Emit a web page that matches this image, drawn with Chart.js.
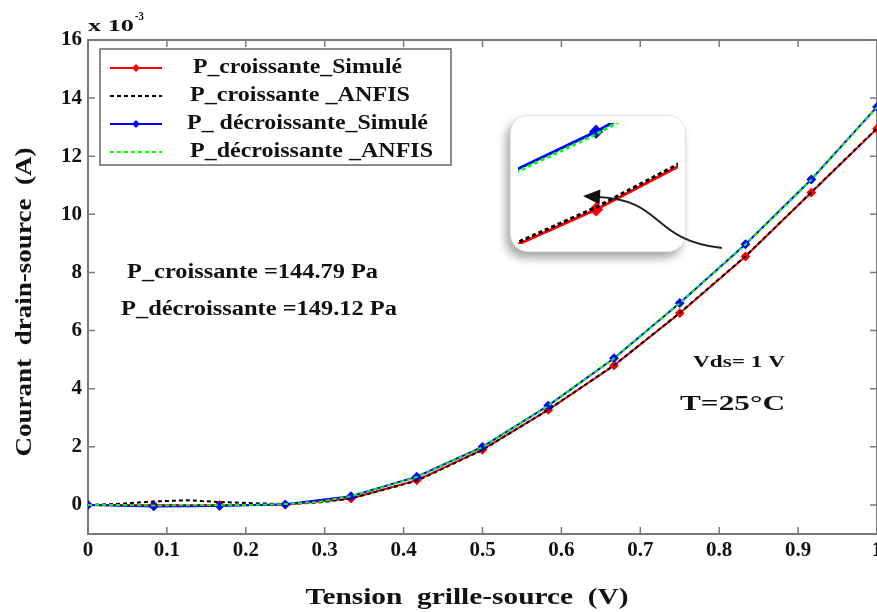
<!doctype html>
<html>
<head>
<meta charset="utf-8">
<title>Courant drain-source</title>
<script src="https://cdn.jsdelivr.net/npm/chart.js"></script>
<style>
    html, body { margin: 0; padding: 0; background: #fff; overflow: hidden; }
    #wrap { position: relative; width: 900px; height: 612px; }
    #mainChart { position: absolute; left: 0; top: 0; z-index: 1; }
    #inset {
        position: absolute; left: 510px; top: 115px; width: 176px; height: 137px;
        border-radius: 18px; overflow: hidden; background: #fff; z-index: 0;
        border: 1px solid #e4e4e4; box-sizing: border-box;
        box-shadow: -4px 6px 10px rgba(0, 0, 0, 0.35);
    }
    #zoomChart { position: absolute; left: -1px; top: -1px; }
</style>
</head>
<body>
<div id="wrap">
    <div id="inset"><canvas id="zoomChart" width="176" height="137"></canvas></div>
    <canvas id="mainChart" width="900" height="612"></canvas>
</div>
<script>
// values in units of 1e-3 A
const xSim = [0, 0.0833, 0.1667, 0.25, 0.3333, 0.4167, 0.5, 0.5833, 0.6667, 0.75, 0.8333, 0.9167, 1];
const croisSim = [0, 0.0, 0.0, 0.01, 0.22, 0.85, 1.9, 3.27, 4.8, 6.6, 8.55, 10.75, 12.95];
const decroisSim = [0, -0.05, -0.04, 0.02, 0.3, 0.97, 2.0, 3.42, 5.05, 6.95, 8.97, 11.2, 13.7];

const xAnfis = [0, 0.0417, 0.0833, 0.125, 0.1667, 0.2083, 0.25, 0.2917, 0.3333, 0.4167, 0.5, 0.5833, 0.6667, 0.75, 0.8333, 0.9167, 1];
const croisAnfis = [0, 0.04, 0.12, 0.16, 0.1, 0.06, 0.03, 0.08, 0.22, 0.83, 1.89, 3.275, 4.807, 6.61, 8.56, 10.76, 12.96];
const decroisAnfis = [0, 0.0, -0.02, 0.0, -0.01, 0.0, 0.03, 0.1, 0.3, 0.96, 1.99, 3.415, 5.042, 6.94, 8.96, 11.19, 13.69];

const xTicks = [0, 0.1, 0.2, 0.3, 0.4, 0.5, 0.6, 0.7, 0.8, 0.9, 1];
const yTicks = [0, 2, 4, 6, 8, 10, 12, 14, 16];

const seriesNames = ["P_croissante_Simulé", "P_croissante _ANFIS", "P_ décroissante_Simulé", "P_décroissante _ANFIS"];

const FONT = '"Liberation Serif", "Times New Roman", serif';

function pts(xs, ys) {
    return xs.map((x, i) => ({ x: x, y: ys[i] }));
}

function makeDatasets(w, r) {
    return [
        { label: seriesNames[0], data: pts(xSim, croisSim), borderColor: "#ff0000", backgroundColor: "#ff0000",
          borderWidth: w, pointStyle: "rectRot", pointRadius: r, order: 4 },
        { label: seriesNames[1], data: pts(xAnfis, croisAnfis), borderColor: "#000000",
          borderWidth: w, borderDash: [4, 3], pointRadius: 0, order: 3 },
        { label: seriesNames[2], data: pts(xSim, decroisSim), borderColor: "#0000ff", backgroundColor: "#0000ff",
          borderWidth: w, pointStyle: "rectRot", pointRadius: r, order: 2 },
        { label: seriesNames[3], data: pts(xAnfis, decroisAnfis), borderColor: "#00ff00",
          borderWidth: w, borderDash: [4, 3], pointRadius: 0, order: 1 },
    ];
}

// bold serif text, stretched along its run to a target width
function drawLabel(ctx, text, x, y, size, width, align, angle) {
    ctx.save();
    ctx.font = "bold " + size + "px " + FONT;
    const w = ctx.measureText(text).width;
    const s = width ? width / w : 1;
    ctx.translate(x, y);
    if (angle) ctx.rotate(angle);
    ctx.scale(s, 1);
    ctx.fillStyle = "#111";
    ctx.textAlign = align || "left";
    ctx.textBaseline = "middle";
    ctx.fillText(text, 0, 0);
    ctx.restore();
}

const framePlugin = {
    id: "frame",
    beforeDatasetsDraw(chart) {
        const ctx = chart.ctx;
        const { left, right, top, bottom } = chart.chartArea;
        const sx = chart.scales.x, sy = chart.scales.y;
        ctx.save();
        ctx.strokeStyle = "#7a7a7a";
        ctx.lineWidth = 2;
        ctx.strokeRect(left, top, right - left, bottom - top);
        ctx.lineWidth = 1.5;
        ctx.beginPath();
        xTicks.forEach(v => {
            const p = sx.getPixelForValue(v);
            ctx.moveTo(p, bottom); ctx.lineTo(p, bottom - 7);
            ctx.moveTo(p, top); ctx.lineTo(p, top + 7);
        });
        yTicks.forEach(v => {
            const p = sy.getPixelForValue(v);
            ctx.moveTo(left, p); ctx.lineTo(left + 7, p);
            ctx.moveTo(right, p); ctx.lineTo(right - 7, p);
        });
        ctx.stroke();
        ctx.restore();
    },
    afterDraw(chart) {
        const ctx = chart.ctx;
        const sx = chart.scales.x, sy = chart.scales.y;
        const P = (vx, vy) => [sx.getPixelForValue(vx), sy.getPixelForValue(vy)];

        // axis titles
        drawLabel(ctx, "Tension  grille-source  (V)", 467, 598, 24, 323, "center");
        drawLabel(ctx, "Courant  drain-source  (A)", 25, 302, 23, 309, "center", -Math.PI / 2);

        // exponent
        drawLabel(ctx, "x 10", 88, 27, 17, 46, "left");
        drawLabel(ctx, "-3", 135, 17, 12, 9, "left");

        // legend
        ctx.save();
        ctx.fillStyle = "#fff";
        ctx.fillRect(100, 49, 351, 116);
        ctx.strokeStyle = "#666";
        ctx.lineWidth = 1.5;
        ctx.strokeRect(100, 49, 351, 116);
        const rows = [68, 96, 124, 152];
        const textW = [209, 220, 241, 243];
        const textX = [193, 190, 187, 190];
        chart.data.datasets.forEach((ds, i) => {
            const yy = rows[i];
            ctx.save();
            ctx.strokeStyle = ds.borderColor;
            ctx.lineWidth = 2;
            ctx.setLineDash(ds.borderDash || []);
            ctx.beginPath();
            ctx.moveTo(110, yy); ctx.lineTo(162, yy);
            ctx.stroke();
            if (ds.pointRadius > 0) {
                ctx.fillStyle = ds.backgroundColor;
                ctx.beginPath();
                ctx.moveTo(136, yy - 4); ctx.lineTo(140, yy); ctx.lineTo(136, yy + 4); ctx.lineTo(132, yy);
                ctx.closePath();
                ctx.fill();
            }
            ctx.restore();
            drawLabel(ctx, ds.label, textX[i], yy, 20, textW[i], "left");
        });
        ctx.restore();

        // annotations
        drawLabel(ctx, "P_croissante =144.79 Pa", 127, 273, 20, 251, "left");
        drawLabel(ctx, "P_décroissante =149.12 Pa", 121, 310, 20, 276, "left");
        drawLabel(ctx, "Vds= 1 V", 693, 363, 17, 92, "left");
        drawLabel(ctx, "T=25°C", 680, 405, 21, 105, "left");

        // arrow towards the zoomed region
        const a0 = P(0.8035, 8.84), c1 = P(0.7123, 9.12), c2 = P(0.7313, 10.5), a1 = P(0.6464, 10.6), tip = P(0.6274, 10.63);
        ctx.save();
        ctx.strokeStyle = "#222";
        ctx.fillStyle = "#111";
        ctx.lineWidth = 2;
        ctx.beginPath();
        ctx.moveTo(a0[0], a0[1]);
        ctx.bezierCurveTo(c1[0], c1[1], c2[0], c2[1], a1[0], a1[1]);
        ctx.stroke();
        const ang = Math.atan2(tip[1] - a1[1], tip[0] - a1[0]);
        ctx.beginPath();
        ctx.moveTo(tip[0], tip[1]);
        ctx.lineTo(tip[0] - 17 * Math.cos(ang) + 7.5 * Math.sin(ang), tip[1] - 17 * Math.sin(ang) - 7.5 * Math.cos(ang));
        ctx.lineTo(tip[0] - 17 * Math.cos(ang) - 7.5 * Math.sin(ang), tip[1] - 17 * Math.sin(ang) + 7.5 * Math.cos(ang));
        ctx.closePath();
        ctx.fill();
        ctx.restore();
    },
};

const tickFont = { family: FONT, weight: "bold", size: 21 };

new Chart(document.getElementById("mainChart"), {
    type: "line",
    data: { datasets: makeDatasets(2, 3.5) },
    options: {
        responsive: false,
        animation: false,
        layout: { padding: { left: 0, right: 23, top: 40, bottom: 0 } },
        plugins: { legend: { display: false }, tooltip: { enabled: false } },
        scales: {
            x: {
                type: "linear", min: 0, max: 1,
                afterBuildTicks: s => { s.ticks = xTicks.map(v => ({ value: v })); },
                afterFit: s => { s.height = 78; },
                grid: { display: false, drawTicks: false },
                border: { display: false },
                ticks: { color: "#111", font: tickFont, padding: 4, maxRotation: 0, callback: v => String(v) },
            },
            y: {
                type: "linear", min: -1, max: 16,
                afterBuildTicks: s => { s.ticks = yTicks.map(v => ({ value: v })); },
                afterFit: s => { s.width = 88; },
                grid: { display: false, drawTicks: false },
                border: { display: false },
                ticks: { color: "#111", font: tickFont, padding: 6, callback: v => String(v) },
            },
        },
    },
    plugins: [framePlugin],
});

// zoomed inset around x = 0.667
new Chart(document.getElementById("zoomChart"), {
    type: "line",
    data: { datasets: makeDatasets(3, 5) },
    options: {
        responsive: false,
        animation: false,
        layout: { padding: 0 },
        plugins: { legend: { display: false }, tooltip: { enabled: false } },
        scales: {
            x: { type: "linear", min: 0.6606, max: 0.6731, display: false },
            y: { type: "linear", min: 4.689, max: 5.078, display: false },
        },
    },
});
</script>
</body>
</html>
